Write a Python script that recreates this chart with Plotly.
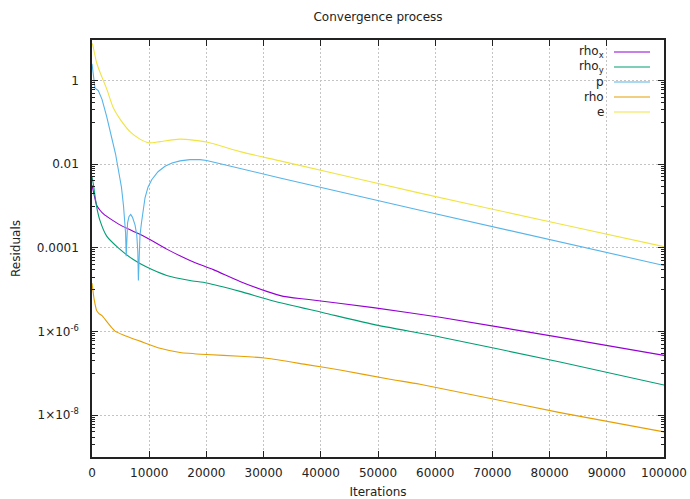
import plotly.graph_objects as go

# ---- residual histories (iteration, residual) ----
iters_rho_x = [0, 350, 820, 1400, 2100, 3150, 4900, 7170, 9560, 13060, 17130,
               21210, 25870, 30540, 33440, 37540, 49180, 60840, 81820, 100000]
rho_x = [3.16e-3, 1.91e-3, 1.05e-3, 7.94e-4, 6.31e-4, 5.01e-4, 3.55e-4, 2.51e-4,
         1.74e-4, 9.33e-5, 5.01e-5, 3.02e-5, 1.58e-5, 9.12e-6, 6.92e-6, 5.89e-6,
         3.72e-6, 2.19e-6, 7.24e-7, 2.69e-7]

iters_rho_y = [0, 260, 790, 1400, 2570, 4600, 7220, 9560, 13060, 17130, 20050,
               25870, 31700, 40440, 49180, 60840, 81820, 100000]
rho_y = [5.01e-3, 3.16e-3, 1.00e-3, 4.47e-4, 1.91e-4, 1.00e-4, 5.25e-5, 3.47e-5,
         2.19e-5, 1.66e-5, 1.45e-5, 9.12e-6, 5.37e-6, 2.82e-6, 1.48e-6, 7.41e-7,
         1.86e-7, 5.25e-8]

iters_p = [0, 525, 1100, 1750, 2570, 3320, 4110, 4630, 5150, 5510, 5680, 5870,
           5980, 6080, 6220, 6470, 6770, 7080, 7520, 7830, 8010, 8110, 8220,
           8390, 8650, 8920, 9270, 9790, 10440, 11540, 12760, 13990, 15390,
           17130, 18880, 20050, 25870, 32870, 57340, 81820, 100000]
p = [2.51, 0.661, 0.575, 0.355, 0.138, 0.0501, 0.0178, 7.08e-3, 2.82e-3,
     1.00e-3, 5.01e-4, 2.24e-4, 6.31e-5, 2.24e-4, 3.98e-4, 5.62e-4, 6.31e-4,
     5.37e-4, 3.55e-4, 2.00e-4, 7.94e-5, 1.66e-5, 7.94e-5, 2.00e-4, 3.98e-4,
     7.94e-4, 1.58e-3, 2.82e-3, 4.27e-3, 6.61e-3, 8.91e-3, 0.0107, 0.0120,
     0.0129, 0.0129, 0.0123, 7.94e-3, 4.68e-3, 7.94e-4, 1.38e-4, 3.80e-5]

iters_rho = [0, 400, 820, 1220, 1750, 2800, 4020, 5770, 8390, 11890, 15390,
             20050, 25870, 30540, 37540, 43360, 52100, 57340, 81820, 100000]
rho = [1.45e-5, 5.62e-6, 3.16e-6, 2.69e-6, 2.40e-6, 1.58e-6, 1.02e-6, 7.94e-7,
       5.89e-7, 3.98e-7, 3.16e-7, 2.82e-7, 2.57e-7, 2.29e-7, 1.62e-7, 1.20e-7,
       7.24e-8, 5.50e-8, 1.15e-8, 3.98e-9]

iters_e = [0, 120, 820, 1400, 2570, 3720, 4900, 6640, 8390, 9970, 11890, 15390,
           20050, 25870, 32870, 57340, 81820, 100000]
e = [7.76, 7.08, 2.63, 1.58, 0.631, 0.224, 0.120, 0.0603, 0.0398, 0.0324,
     0.0347, 0.0398, 0.0339, 0.0200, 0.0120, 2.04e-3, 3.72e-4, 1.07e-4]

# ---- axis ticks ----
x_ticks = [0, 10000, 20000, 30000, 40000, 50000, 60000, 70000, 80000, 90000, 100000]
y_ticks = [1, 0.01, 1e-4, 1e-6, 1e-8]
y_tick_text = ["1", "0.01", "0.0001", "1×10<sup>-6</sup>", "1×10<sup>-8</sup>"]
y_minor = [m * 10.0 ** ex for ex in (-9, -7, -5, -3, -1) for m in range(1, 10)]

FONT = "DejaVu Sans"
TEXT = "#222222"
W, H = 690, 499
ML, MR, MT, MB = 92, 26, 40, 42

series = [
    ("rho<sub>x</sub>", iters_rho_x, rho_x, "#9400d3", "spline"),
    ("rho<sub>y</sub>", iters_rho_y, rho_y, "#009e73", "spline"),
    ("p", iters_p, p, "#56b4e9", "linear"),
    ("rho", iters_rho, rho, "#e69f00", "spline"),
    ("e", iters_e, e, "#f0e442", "spline"),
]

fig = go.Figure()
for name, xs, ys, color, shape in series:
    fig.add_trace(go.Scatter(
        x=xs, y=ys, mode="lines", name=name, showlegend=False,
        line=dict(color=color, width=1.1, shape=shape, smoothing=0.6),
    ))

# key in the top-right corner: label on the left, line sample on the right,
# on an opaque box that hides the grid behind it
plot_w = W - ML - MR
plot_h = H - MT - MB


def px_x(v):
    return (v - ML) / plot_w


def px_y(v):
    return (H - MB - v) / plot_h


annotations = []
shapes = [dict(type="rect", xref="paper", yref="paper", layer="between",
               x0=px_x(578), x1=px_x(660), y0=px_y(120), y1=px_y(46),
               fillcolor="white", line=dict(width=0))]
for i, (name, _, _, color, _) in enumerate(series):
    row_y = 52 + 15 * i
    annotations.append(dict(
        text=name, x=px_x(606), y=px_y(row_y), xref="paper", yref="paper",
        xanchor="right", yanchor="middle", showarrow=False,
        font=dict(family=FONT, size=12, color=TEXT),
    ))
    shapes.append(dict(
        type="line", xref="paper", yref="paper",
        x0=px_x(614), x1=px_x(650), y0=px_y(row_y), y1=px_y(row_y),
        line=dict(color=color, width=1.1),
    ))

grid = dict(showgrid=True, gridcolor="#c4c4c4", griddash="2px,2px", gridwidth=1)

fig.update_layout(
    width=W, height=H,
    margin=dict(l=ML, r=MR, t=MT, b=MB, autoexpand=False),
    paper_bgcolor="white", plot_bgcolor="white",
    font=dict(family=FONT, size=12, color=TEXT),
    title=dict(text="Convergence process", x=0.5, xref="paper",
               y=1 - 17 / H, yref="container", yanchor="middle",
               font=dict(family=FONT, size=12, color=TEXT)),
    xaxis=dict(
        range=[0, 100000], tickvals=x_ticks, tickformat="d",
        ticks="inside", ticklen=6, tickcolor="#222", tickwidth=1,
        showline=True, linecolor="#222", linewidth=1.5, mirror="ticks",
        zeroline=False, ticklabelstandoff=4,
        title=dict(text="Iterations", standoff=14,
                   font=dict(family=FONT, size=12, color=TEXT)),
        **grid,
    ),
    yaxis=dict(
        type="log", range=[-9, 0.97],
        tickvals=y_ticks, ticktext=y_tick_text,
        ticks="inside", ticklen=6, tickcolor="#222", tickwidth=1,
        minor=dict(tickvals=y_minor, ticks="inside", ticklen=3,
                   tickcolor="#222", showgrid=False),
        showline=True, linecolor="#222", linewidth=1.5, mirror="ticks",
        zeroline=False, ticklabelstandoff=9,
        title=dict(text="Residuals", standoff=14,
                   font=dict(family=FONT, size=12, color=TEXT)),
        **grid,
    ),
    annotations=annotations,
    shapes=shapes,
)

fig.write_html("out.html")
